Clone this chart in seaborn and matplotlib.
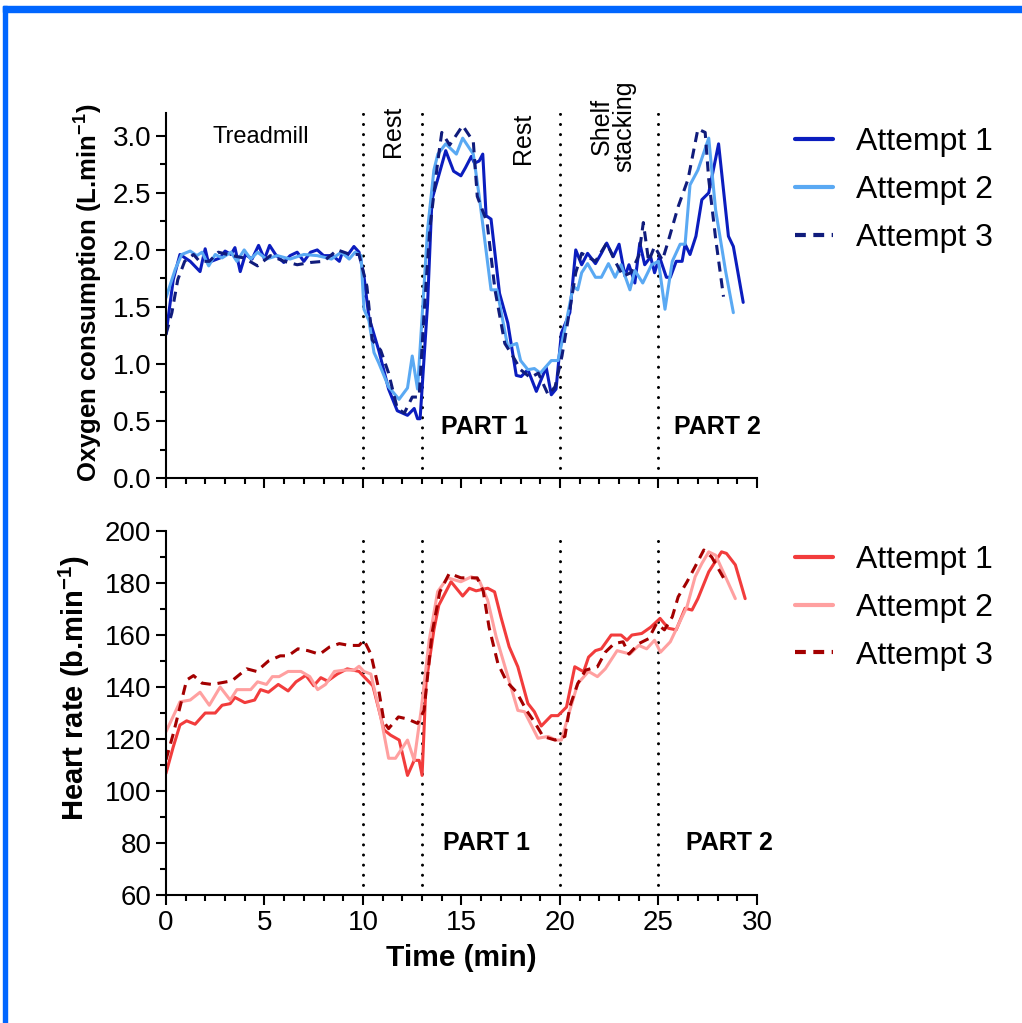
import numpy as np
import pandas as pd
import seaborn as sns
import matplotlib
matplotlib.use('Agg')
import matplotlib.pyplot as plt
from matplotlib.lines import Line2D
from matplotlib.patches import Rectangle
from matplotlib.ticker import MultipleLocator, FormatStrFormatter

# ---- oxygen consumption (L/min) ----
vo2_t1 = [0, 0.37, 0.71, 1.23, 1.73, 1.99, 2.15, 2.75, 3.0, 3.3, 3.5, 3.77, 4.03, 4.37, 4.7, 5.0,
          5.26, 5.56, 5.98, 6.3, 6.66, 7.0, 7.34, 7.68, 8.0, 8.46, 8.8, 8.96, 9.2, 9.54, 9.8, 10.05,
          10.3, 10.8, 11.3, 11.74, 12.26, 12.6, 12.77, 12.9, 13.28, 13.5, 14.2, 14.6, 14.97, 15.2,
          15.5, 15.66, 15.9, 16.08, 16.25, 16.5, 16.93, 17.35, 17.78, 18.03, 18.37, 18.8, 19.3,
          19.56, 19.8, 20.07, 20.5, 20.8, 21.1, 21.4, 21.8, 22.1, 22.37, 22.7, 23.0, 23.3, 23.5,
          23.8, 24.05, 24.3, 24.6, 24.8, 25.05, 25.4, 25.6, 25.9, 26.2, 26.35, 26.6, 26.9, 27.2,
          27.55, 28.05, 28.55, 28.8, 29.3]
vo2_a1 = [1.26, 1.74, 1.96, 1.9, 1.81, 2.01, 1.89, 1.93, 1.99, 1.96, 2.02, 1.81, 1.96, 1.92, 2.04, 1.92,
          2.04, 1.96, 1.89, 1.95, 1.98, 1.9, 1.98, 2.0, 1.95, 1.95, 1.9, 1.98, 1.95, 2.03, 1.98, 1.77,
          1.41, 1.12, 0.78, 0.59, 0.55, 0.61, 0.52, 0.52, 1.53, 2.44, 2.87, 2.69, 2.65, 2.72,
          2.82, 2.76, 2.78, 2.84, 2.30, 2.27, 1.62, 1.36, 0.9, 0.89, 0.95, 0.76, 0.97,
          0.73, 0.78, 1.27, 1.45, 2.0, 1.87, 1.97, 1.88, 1.97, 2.06, 1.94, 2.05, 1.77, 1.87,
          1.71, 2.06, 1.87, 1.94, 1.8, 1.94, 1.76, 1.76, 1.9, 1.9, 2.05, 1.96, 2.12, 2.44,
          2.5, 2.93, 2.12, 2.03, 1.54]

vo2_t2 = [0, 0.47, 0.8, 1.23, 1.57, 1.83, 2.17, 2.5, 2.85, 3.3, 3.6, 3.97, 4.3, 4.65, 5.1, 5.65,
          6.3, 7.0, 7.68, 8.4, 8.9, 9.3, 9.6, 9.9, 10.05, 10.3, 10.56, 10.8, 11.3, 11.83, 12.26,
          12.5, 12.77, 13.28, 13.6, 13.8, 14.2, 14.74, 15.06, 15.6, 15.9, 16.5, 16.8, 17.35, 17.8,
          18.0, 18.37, 18.7, 19.0, 19.56, 19.9, 20.24, 20.67, 20.9, 21.1, 21.4, 21.8, 22.1, 22.46,
          22.8, 23.1, 23.55, 23.8, 24.2, 24.65, 25.0, 25.33, 25.7, 26.1, 26.35, 26.6, 27.0, 27.55,
          27.9, 28.4, 28.8]
vo2_a2 = [1.58, 1.83, 1.96, 1.99, 1.95, 1.98, 1.86, 1.96, 1.93, 1.98, 1.9, 2.0, 1.92, 1.98, 1.92, 1.95,
          1.92, 1.96, 1.95, 1.92, 1.98, 1.92, 1.98, 1.95, 1.48, 1.38, 1.1, 1.01, 0.8, 0.69, 0.79,
          1.07, 0.78, 2.18, 2.7, 2.84, 2.93, 2.84, 2.98, 2.84, 2.47, 1.65, 1.65, 1.15, 1.18,
          1.03, 0.95, 0.96, 0.92, 1.03, 1.03, 1.3, 1.68, 1.65, 1.8, 1.88, 1.76, 1.76, 1.88,
          1.76, 1.87, 1.65, 1.82, 1.71, 1.87, 1.9, 1.48, 1.9, 2.05, 2.05, 2.57, 2.7, 2.98,
          2.35, 1.82, 1.45]

vo2_t3 = [0, 0.3, 0.6, 0.95, 1.4, 1.7, 2.2, 2.66, 3.35, 3.95, 4.65, 5.3, 6.0, 6.66, 7.34, 8.0,
          8.7, 9.36, 9.8, 10.2, 10.47, 10.9, 11.3, 11.74, 12.1, 12.5, 12.85, 13.1, 13.4, 13.8, 14.0,
          14.4, 15.06, 15.6, 15.8, 16.3, 16.7, 17.2, 17.6, 18.0, 18.5, 18.9, 19.4, 19.75, 20.1,
          20.5, 20.8, 21.1, 21.8, 22.37, 22.8, 23.2, 23.6, 24.0, 24.23, 24.5, 24.8, 25.2, 25.5,
          26.0, 26.5, 27.0, 27.37, 27.55, 27.9, 28.3]
vo2_a3 = [1.26, 1.45, 1.74, 1.9, 1.96, 1.9, 1.9, 1.98, 1.95, 1.93, 1.86, 1.95, 1.9, 1.87, 1.89, 1.9,
          2.0, 1.96, 1.96, 1.68, 1.21, 1.12, 0.92, 0.61, 0.57, 0.71, 0.71, 1.44, 2.2, 2.78, 3.03,
          2.92, 3.09, 2.95, 2.47, 2.24, 1.65, 1.18, 1.07, 0.95, 0.88, 0.92, 0.73, 0.8, 1.07,
          1.48, 1.8, 1.97, 1.9, 2.06, 1.9, 1.77, 1.8, 1.95, 2.24, 1.9, 2.03, 1.91, 2.08,
          2.38, 2.62, 3.06, 3.03, 2.62, 2.1, 1.59]

# ---- heart rate (b/min) ----
hr_t1 = [0, 0.37, 0.71, 1.05, 1.48, 1.99, 2.5, 2.85, 3.26, 3.5, 4.0, 4.5, 4.8, 5.2, 5.7, 6.2, 6.6,
         7.1, 7.5, 7.86, 8.2, 8.7, 9.2, 9.8, 10.1, 10.5, 11.07, 11.4, 11.84, 12.26, 12.6, 12.85,
         13.0, 13.2, 13.6, 13.85, 14.47, 15.06, 15.4, 15.74, 16.33, 16.68, 17.0, 17.42, 17.86,
         18.37, 18.7, 19.05, 19.56, 19.9, 20.33, 20.75, 21.2, 21.45, 21.8, 22.1, 22.6, 23.1, 23.4,
         23.65, 24.15, 24.6, 25.08, 25.5, 25.9, 26.35, 26.7, 27.0, 27.55, 28.2, 28.45, 28.9, 29.4]
hr_a1 = [106.8, 117, 125.4, 127, 125.7, 130, 130, 133, 133.6, 136, 134, 135, 139, 138, 141, 138.5, 142,
         144.5, 140.5, 143.6, 142.3, 145, 147, 146, 143.6, 140.5, 123.5, 121.5, 119.6, 106, 111.8, 111.8,
         106, 141.5, 162, 171.5, 180.5, 175, 178, 177, 178, 176.6, 167, 155.5, 147.8,
         133.7, 130.5, 125, 129, 129, 132.3, 147.8, 145.9, 151.5, 154, 154.7, 160, 160, 158,
         160, 160.6, 163, 166.4, 162.6, 162, 170.3, 169.6, 174, 184.3, 192, 191.4, 187, 174]

hr_t2 = [0, 0.71, 1.23, 1.73, 2.2, 2.75, 3.26, 3.6, 4.3, 4.65, 5.1, 5.4, 5.74, 6.2, 6.85, 7.3, 7.7,
         8.1, 8.55, 9.05, 9.55, 9.8, 10.05, 10.4, 10.9, 11.3, 11.65, 12.26, 12.6, 12.95, 13.36,
         13.79, 14.3, 14.97, 15.5, 15.9, 16.33, 16.76, 17.2, 17.86, 18.2, 18.5, 18.88, 19.4, 19.8,
         20.07, 20.5, 20.9, 21.45, 21.9, 22.3, 22.9, 23.55, 24.0, 24.4, 24.8, 25.1, 25.6, 26.0,
         26.45, 26.86, 27.2, 27.55, 27.9, 28.4, 28.9]
hr_a2 = [122.8, 134.3, 135, 138, 133, 140, 135, 139, 139, 142, 141, 144, 144, 146, 146, 144, 139,
         141, 146, 146.5, 146.5, 148, 146, 145, 128.5, 112.6, 112.6, 119.6, 111.8, 131, 158,
         176.7, 182, 180.5, 182.4, 181, 173.4, 159.3, 148, 131, 130.5, 126, 120.3, 121, 119.6,
         119.6, 131, 141.3, 146, 144, 147, 154, 152.7, 156, 154.7, 158, 153.4, 157.4, 163.8,
         171, 182.4, 187.5, 192, 190.7, 182.4, 174]

hr_t3 = [0, 0.37, 0.8, 1.05, 1.4, 1.83, 2.33, 2.85, 3.35, 3.77, 4.1, 4.6, 5.2, 5.8, 6.2, 6.7, 7.2,
         7.8, 8.3, 8.8, 9.3, 9.8, 10.05, 10.4, 10.76, 11.07, 11.3, 11.8, 12.26, 12.77, 13.1, 13.5,
         13.9, 14.38, 14.97, 15.5, 15.8, 16.1, 16.4, 16.85, 17.3, 17.8, 18.3, 18.7, 19.14, 19.75,
         20.25, 20.5, 20.9, 21.3, 21.9, 22.3, 22.75, 23.2, 23.5, 24.0, 24.5, 24.9, 25.3, 25.7,
         26.0, 26.45, 26.86, 27.3, 27.7, 28.0, 28.3]
hr_a3 = [112, 122, 135, 142.7, 144.4, 141.5, 141, 141.7, 142.4, 145, 147, 146, 150, 152, 152, 154.7, 154,
         152.6, 155.4, 156.7, 156, 156, 158, 152.7, 140.6, 126.5, 124, 128.5, 127.7, 126, 131, 160.5,
         176.6, 183.7, 182, 182, 182, 177, 163, 149, 142, 138, 131, 126.6, 121, 119.6,
         121, 132.5, 141.3, 146.5, 147.8, 153.4, 156.7, 157.4, 152.7, 156.7, 158.6, 164.4, 162, 167,
         174.7, 180.5, 186.3, 192.7, 190, 186, 182]

attempts = ['Attempt 1', 'Attempt 2', 'Attempt 3']
phase_lines = [10, 13, 20, 25]
blue_colors = {'Attempt 1': '#0B1DBE', 'Attempt 2': '#5AA9F3', 'Attempt 3': '#101C7C'}
red_colors = {'Attempt 1': '#F23C3C', 'Attempt 2': '#FFA0A0', 'Attempt 3': '#A30000'}
dash_map = {'Attempt 1': '', 'Attempt 2': '', 'Attempt 3': (3.3, 2.2)}


def make_df(ts, vals):
    parts = []
    for name, t, v in zip(attempts, ts, vals):
        parts.append(pd.DataFrame({'t': t, 'v': v, 'attempt': name}))
    return pd.concat(parts, ignore_index=True)


vo2_df = make_df([vo2_t1, vo2_t2, vo2_t3], [vo2_a1, vo2_a2, vo2_a3])
hr_df = make_df([hr_t1, hr_t2, hr_t3], [hr_a1, hr_a2, hr_a3])

sns.set_style('ticks')
plt.rcParams['font.family'] = ['Liberation Sans', 'DejaVu Sans']
plt.rcParams['mathtext.fontset'] = 'custom'
plt.rcParams['mathtext.rm'] = 'Liberation Sans'
plt.rcParams['mathtext.bf'] = 'Liberation Sans:bold'
for key in ['text.color', 'axes.labelcolor', 'xtick.color', 'ytick.color', 'axes.edgecolor']:
    plt.rcParams[key] = 'black'

fig = plt.figure(figsize=(10.22, 10.23), dpi=100)
ax1 = fig.add_axes([0.1624, 0.5327, 0.5783, 0.3568])
ax2 = fig.add_axes([0.1624, 0.1251, 0.5783, 0.3558])

for ax, df, pal in [(ax1, vo2_df, blue_colors), (ax2, hr_df, red_colors)]:
    sns.lineplot(data=df, x='t', y='v', hue='attempt', style='attempt', hue_order=attempts,
                 style_order=attempts, palette=pal, dashes=dash_map, sort=False,
                 estimator=None, lw=2.2, ax=ax, legend=False)
    for x in phase_lines:
        ax.axvline(x, color='black', lw=2.2, ls=(0, (0.01, 3.3)), dash_capstyle='round', zorder=1)
    handles = [Line2D([], [], color=pal[a], lw=3) for a in attempts]
    handles[2].set_dashes((2.6, 1.8))
    ax.legend(handles, attempts, loc='upper left', bbox_to_anchor=(1.064, 0.962), frameon=False,
              fontsize=23, handlelength=1.2, handletextpad=0.7, labelspacing=0.56,
              borderaxespad=0, borderpad=0)
    ax.set_xlim(0, 30)
    ax.xaxis.set_major_locator(MultipleLocator(5))
    ax.xaxis.set_minor_locator(MultipleLocator(1))
    ax.tick_params(which='major', direction='out', length=7, width=1.5, labelsize=20)
    ax.tick_params(which='minor', direction='out', length=4.5, width=1.5)
    for s in ['left', 'bottom']:
        ax.spines[s].set_linewidth(1.5)
    sns.despine(ax=ax)

ax1.set_ylim(0, 3.2)
ax1.yaxis.set_major_locator(MultipleLocator(0.5))
ax1.yaxis.set_minor_locator(MultipleLocator(0.25))
ax1.yaxis.set_major_formatter(FormatStrFormatter('%.1f'))
ax1.tick_params(axis='x', labelbottom=False)
ax1.set_xlabel('')
ax1.set_ylabel(r'Oxygen consumption (L.min$^{\mathbf{-1}}$)', fontsize=18.5, fontweight='bold')
ax1.yaxis.set_label_coords(-0.105, 0.507)

ax2.set_ylim(60, 200)
ax2.yaxis.set_major_locator(MultipleLocator(20))
ax2.yaxis.set_minor_locator(MultipleLocator(10))
ax2.set_xlabel('Time (min)', fontsize=21.5, fontweight='bold', labelpad=6)
ax2.set_ylabel(r'Heart rate (b.min$^{\mathbf{-1}}$)', fontsize=21, fontweight='bold')
ax2.yaxis.set_label_coords(-0.125, 0.57)

# phase annotations
ax1.text(4.8, 2.99, 'Treadmill', ha='center', va='center', fontsize=17)
ax1.text(11.5, 3.04, 'Rest', ha='center', va='center', fontsize=18, rotation=90)
ax1.text(18.1, 2.98, 'Rest', ha='center', va='center', fontsize=18, rotation=90)
ax1.text(22.7, 3.08, 'Shelf\nstacking', ha='center', va='center', fontsize=18, rotation=90,
         linespacing=0.95)
ax1.text(16.15, 0.45, 'PART 1', ha='center', va='center', fontsize=18, fontweight='bold')
ax1.text(28.0, 0.45, 'PART 2', ha='center', va='center', fontsize=18, fontweight='bold')
ax2.text(16.25, 80, 'PART 1', ha='center', va='center', fontsize=18, fontweight='bold')
ax2.text(28.6, 80, 'PART 2', ha='center', va='center', fontsize=18, fontweight='bold')

# blue frame on top and left edges
fig.patches.append(Rectangle((3 / 1022, 0), 4 / 1022, 1 - 6 / 1023, transform=fig.transFigure,
                             color='#0066FF', zorder=10))
fig.patches.append(Rectangle((3 / 1022, 1 - 12 / 1023), 1, 6 / 1023, transform=fig.transFigure,
                             color='#0066FF', zorder=10))

fig.savefig('out.png', dpi=100, facecolor='white')
